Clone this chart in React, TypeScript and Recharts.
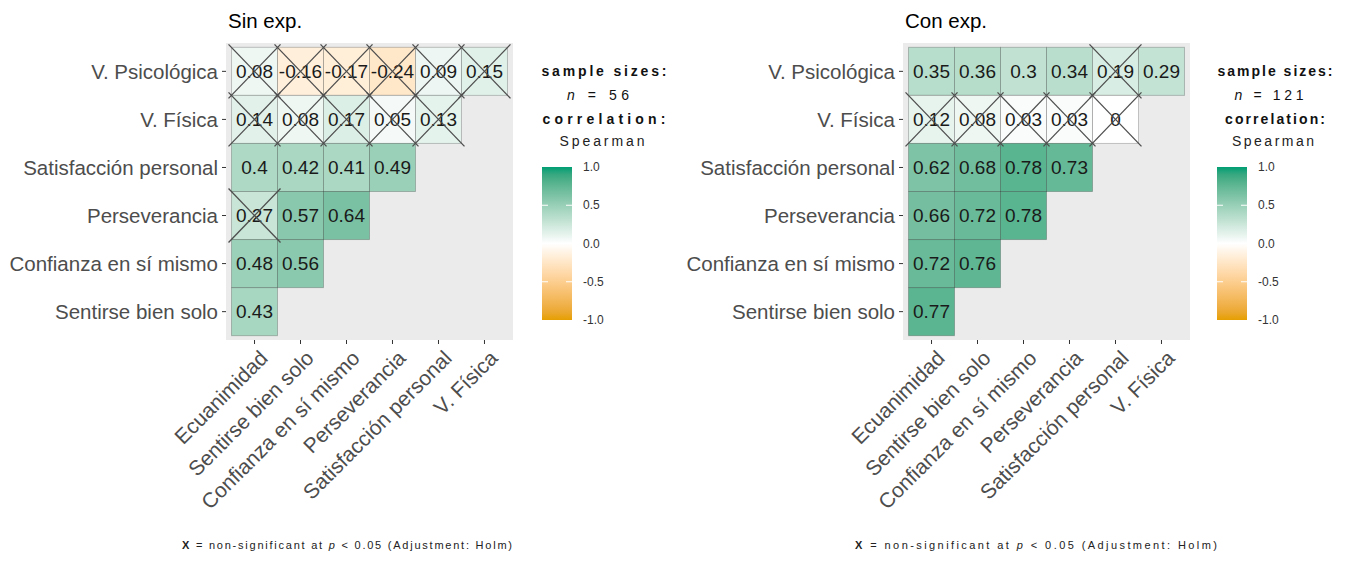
import React from 'react';
import { ScatterChart, Scatter, XAxis, YAxis, CartesianGrid } from 'recharts';

// variables on the x axis (left to right) and y axis (top to bottom)
const colNames = ['Ecuanimidad', 'Sentirse bien solo', 'Confianza en sí mismo', 'Perseverancia', 'Satisfacción personal', 'V. Física'];
const rowNames = ['V. Psicológica', 'V. Física', 'Satisfacción personal', 'Perseverancia', 'Confianza en sí mismo', 'Sentirse bien solo'];

// Spearman correlations, one row per y variable
const sinExpR = [
    [0.08, -0.16, -0.17, -0.24, 0.09, 0.15],
    [0.14, 0.08, 0.17, 0.05, 0.13],
    [0.4, 0.42, 0.41, 0.49],
    [0.27, 0.57, 0.64],
    [0.48, 0.56],
    [0.43],
];
// 1 = non-significant (crossed out)
const sinExpNS = [
    [1, 1, 1, 1, 1, 1],
    [1, 1, 1, 1, 1],
    [0, 0, 0, 0],
    [1, 0, 0],
    [0, 0],
    [0],
];

const conExpR = [
    [0.35, 0.36, 0.3, 0.34, 0.19, 0.29],
    [0.12, 0.08, 0.03, 0.03, 0],
    [0.62, 0.68, 0.78, 0.73],
    [0.66, 0.72, 0.78],
    [0.72, 0.76],
    [0.77],
];
const conExpNS = [
    [0, 0, 0, 0, 1, 0],
    [1, 1, 1, 1, 1],
    [0, 0, 0, 0],
    [0, 0, 0],
    [0, 0],
    [0],
];

const sinExpN = 56;
const conExpN = 121;
const legendTicks = [1, 0.5, 0, -0.5, -1];

const FONT = '"Liberation Sans", Arial, sans-serif';

// ---- colour scale: gradient2 interpolated in Lab like scales::div_gradient_pal
const LOW = '#E69F00';
const MID = '#FFFFFF';
const HIGH = '#009E73';

const hexToRgb = (h: string) => [1, 3, 5].map(i => parseInt(h.slice(i, i + 2), 16) / 255);
const toLin = (c: number) => (c <= 0.04045 ? c / 12.92 : Math.pow((c + 0.055) / 1.055, 2.4));
const fromLin = (c: number) => (c <= 0.0031308 ? 12.92 * c : 1.055 * Math.pow(c, 1 / 2.4) - 0.055);
const fLab = (t: number) => (t > 0.008856 ? Math.cbrt(t) : 7.787 * t + 16 / 116);
const fLabInv = (t: number) => (t > 0.206893 ? t * t * t : (t - 16 / 116) / 7.787);

const toLab = (hex: string) => {
    const [r, g, b] = hexToRgb(hex).map(toLin);
    const X = (0.4124 * r + 0.3576 * g + 0.1805 * b) / 0.95047;
    const Y = 0.2126 * r + 0.7152 * g + 0.0722 * b;
    const Z = (0.0193 * r + 0.1192 * g + 0.9505 * b) / 1.08883;
    const fx = fLab(X), fy = fLab(Y), fz = fLab(Z);
    return [116 * fy - 16, 500 * (fx - fy), 200 * (fy - fz)];
};

const labToHex = ([L, a, b]: number[]) => {
    const fy = (L + 16) / 116;
    const fx = fy + a / 500;
    const fz = fy - b / 200;
    const X = fLabInv(fx) * 0.95047, Y = fLabInv(fy), Z = fLabInv(fz) * 1.08883;
    const r = 3.2406 * X - 1.5372 * Y - 0.4986 * Z;
    const g = -0.9689 * X + 1.8758 * Y + 0.0415 * Z;
    const bl = 0.0557 * X - 0.204 * Y + 1.057 * Z;
    return '#' + [r, g, bl].map(c => {
        const v = Math.round(Math.min(1, Math.max(0, fromLin(c))) * 255);
        return v.toString(16).padStart(2, '0');
    }).join('');
};

const labLow = toLab(LOW), labMid = toLab(MID), labHigh = toLab(HIGH);
const corrColor = (v: number) => {
    const t = Math.min(1, Math.abs(v));
    const end = v >= 0 ? labHigh : labLow;
    return labToHex(labMid.map((m, i) => m + (end[i] - m) * t));
};

// ---- panel geometry (inside a 675 x 562 chart)
const CHART_W = 675;
const CHART_H = 562;
const PLOT_L = 226;
const PLOT_T = 43;
const PLOT_R = 513;
const PLOT_B = 340;
const X_DOMAIN: [number, number] = [0.38, 6.62];
const Y_DOMAIN: [number, number] = [0.41, 6.59];
const CELL_W = (PLOT_R - PLOT_L) / (X_DOMAIN[1] - X_DOMAIN[0]);
const CELL_H = (PLOT_B - PLOT_T) / (Y_DOMAIN[1] - Y_DOMAIN[0]);

const toCells = (r: number[][], ns: number[][]) =>
    r.flatMap((row, i) => row.map((v, j) => ({ x: j + 1, y: i + 1, r: v, ns: ns[i][j] === 1 })));

const Tile = (props: any) => {
    const { cx, cy, payload } = props;
    return (
        <g>
            <rect
                x={cx - CELL_W / 2}
                y={cy - CELL_H / 2}
                width={CELL_W}
                height={CELL_H}
                fill={corrColor(payload.r)}
                stroke="rgba(0,0,0,0.22)"
                strokeWidth={1}
            />
            <text x={cx} y={cy} textAnchor="middle" dominantBaseline="central"
                fontSize={19} fontFamily={FONT} fill="#1a1a1a">
                {String(payload.r)}
            </text>
        </g>
    );
};

const Cross = (props: any) => {
    const { cx, cy } = props;
    const hx = 26, hy = 27;
    return (
        <g stroke="#4d4d4d" strokeWidth={1.3}>
            <line x1={cx - hx} y1={cy - hy} x2={cx + hx} y2={cy + hy} />
            <line x1={cx - hx} y1={cy + hy} x2={cx + hx} y2={cy - hy} />
        </g>
    );
};

const XTick = (props: any) => {
    const { x, y, payload } = props;
    const ax = x + 4, ay = y + 3;
    return (
        <text x={ax} y={ay} dy="0.71em" textAnchor="end" transform={`rotate(-45, ${ax}, ${ay})`}
            fontSize={21} fontFamily={FONT} fill="#4d4d4d">
            {colNames[payload.value - 1]}
        </text>
    );
};

const YTick = (props: any) => {
    const { x, y, payload } = props;
    return (
        <text x={x} y={y} textAnchor="end" dominantBaseline="central"
            fontSize={20.5} fontFamily={FONT} fill="#4d4d4d">
            {rowNames[payload.value - 1]}
        </text>
    );
};

type PanelProps = {
    title: string;
    r: number[][];
    ns: number[][];
    n: number;
    left: number;
    legendCx: number;
    barX: number;
    widths: number[];
    captionCx: number;
    captionW: number;
};

const Panel = ({ title, r, ns, n, left, legendCx, barX, widths, captionCx, captionW }: PanelProps) => {
    const cells = toCells(r, ns);
    const crossed = cells.filter(c => c.ns);
    const gid = `grad-${left}`;
    const barTop = 167, barBot = 320, barW = 30;
    const tickY = (v: number) => barTop + ((1 - v) / 2) * (barBot - barTop);
    const stops = Array.from({ length: 21 }, (_, i) => 1 - i * 0.1);

    return (
        <div style={{ position: 'absolute', left, top: 0, width: CHART_W, height: CHART_H }}>
            <ScatterChart width={CHART_W} height={CHART_H}
                margin={{ top: PLOT_T, right: CHART_W - PLOT_R, bottom: 0, left: 0 }}>
                <CartesianGrid fill="#EBEBEB" horizontal={false} vertical={false} stroke="none" />
                <XAxis type="number" dataKey="x" domain={X_DOMAIN} ticks={[1, 2, 3, 4, 5, 6]}
                    allowDataOverflow height={CHART_H - PLOT_B} axisLine={false}
                    tickLine={{ stroke: '#333333' }} tickSize={4} tickMargin={2} tick={<XTick />}
                    interval={0} />
                <YAxis type="number" dataKey="y" domain={Y_DOMAIN} ticks={[1, 2, 3, 4, 5, 6]}
                    allowDataOverflow reversed width={PLOT_L} axisLine={false}
                    tickLine={{ stroke: '#333333' }} tickSize={4} tickMargin={4} tick={<YTick />}
                    interval={0} />
                <Scatter data={cells} shape={<Tile />} isAnimationActive={false} />
                <Scatter data={crossed} shape={<Cross />} isAnimationActive={false} />
            </ScatterChart>
            <svg width={CHART_W} height={CHART_H}
                style={{ position: 'absolute', left: 0, top: 0, pointerEvents: 'none' }}
                fontFamily={FONT}>
                <defs>
                    <linearGradient id={gid} x1="0" y1="0" x2="0" y2="1">
                        {stops.map((v, i) => (
                            <stop key={i} offset={`${i * 5}%`} stopColor={corrColor(v)} />
                        ))}
                    </linearGradient>
                </defs>
                <text x={PLOT_L + 2} y={28} fontSize={20.5} fill="#000">{title}</text>

                <text x={legendCx} y={76} textAnchor="middle" fontSize={14} fontWeight="bold" fill="#111"
                    textLength={widths[0]} lengthAdjust="spacing">sample sizes:</text>
                <text x={legendCx - 6} y={100} textAnchor="middle" fontSize={14} fill="#111"
                    textLength={widths[1]} lengthAdjust="spacing">
                    <tspan fontStyle="italic">n</tspan> = {n}
                </text>
                <text x={legendCx} y={124} textAnchor="middle" fontSize={14} fontWeight="bold" fill="#111"
                    textLength={widths[2]} lengthAdjust="spacing">correlation:</text>
                <text x={legendCx - 2} y={146} textAnchor="middle" fontSize={14} fill="#222"
                    textLength={widths[3]} lengthAdjust="spacing">Spearman</text>

                <rect x={barX} y={barTop} width={barW} height={barBot - barTop} fill={`url(#${gid})`} />
                {legendTicks.map(v => (
                    <g key={v}>
                        {v !== 1 && v !== -1 && (
                            <g stroke="#ffffff" strokeWidth={1}>
                                <line x1={barX} x2={barX + 6} y1={tickY(v)} y2={tickY(v)} />
                                <line x1={barX + barW - 6} x2={barX + barW} y1={tickY(v)} y2={tickY(v)} />
                            </g>
                        )}
                        <text x={barX + 41} y={tickY(v)} dominantBaseline="central" fontSize={12} fill="#333">
                            {v.toFixed(1)}
                        </text>
                    </g>
                ))}

                <text x={captionCx} y={549} textAnchor="middle" fontSize={11} fill="#222"
                    textLength={captionW} lengthAdjust="spacing">
                    <tspan fontWeight="bold">X</tspan> = non-significant at <tspan fontStyle="italic">p</tspan> &lt; 0.05 (Adjustment: Holm)
                </text>
            </svg>
        </div>
    );
}

export default function App() {
    return (
        <div style={{ position: 'absolute', left: 0, top: 0, width: 1351, height: 562, background: '#fff', fontFamily: FONT }}>
            <Panel title="Sin exp." r={sinExpR} ns={sinExpNS} n={sinExpN} left={0}
                legendCx={604} barX={542} widths={[125, 62, 123, 85]} captionCx={347} captionW={330} />
            <Panel title="Con exp." r={conExpR} ns={conExpNS} n={conExpN} left={677}
                legendCx={598} barX={540} widths={[115, 69, 100, 82]} captionCx={359} captionW={362} />
        </div>
    );
}
